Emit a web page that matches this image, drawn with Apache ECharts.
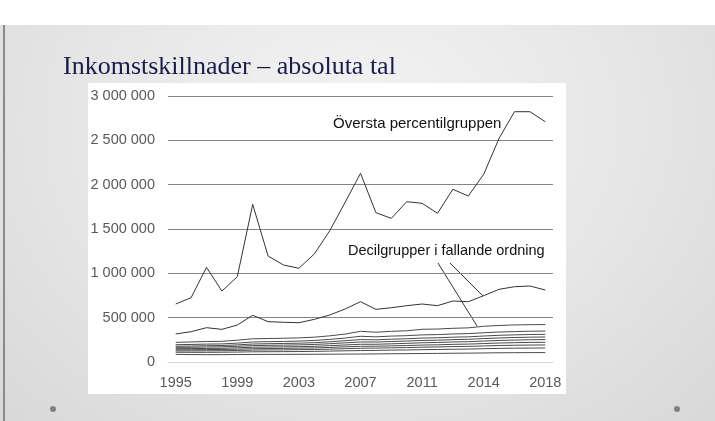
<!DOCTYPE html>
<html>
<head>
<meta charset="utf-8">
<script src="https://cdn.jsdelivr.net/npm/echarts@6/dist/echarts.min.js"></script>
<style>
  html, body { margin: 0; padding: 0; width: 715px; height: 421px; background: #fff; overflow: hidden; }
  #slide {
    position: absolute; left: 0; top: 25px; width: 715px; height: 396px;
    background: radial-gradient(ellipse at 50% 25%, #f3f3f3 0%, #e6e6e6 55%, #d8d8d8 100%);
  }
  #edge { position: absolute; left: 3px; top: 25px; width: 2px; height: 396px; background: #8a8a8a; }
  #box { position: absolute; left: 88px; top: 83px; width: 478px; height: 311px; background: #fff; }
  .dot { position: absolute; width: 6px; height: 6px; border-radius: 3px; background: #808080; top: 406px; }
  #map { position: absolute; left: 0; top: 0; width: 715px; height: 421px; }
</style>
</head>
<body>
<div id="slide"></div>
<div id="edge"></div>
<div id="box"></div>
<div class="dot" style="left:50px"></div>
<div class="dot" style="left:674px"></div>
<div id="map"></div>
<script>
// år (2013 finns två gånger i serien)
const years = ['1995', '1996', '1997', '1998', '1999', '2000', '2001', '2002', '2003', '2004',
  '2005', '2006', '2007', '2008', '2009', '2010', '2011', '2012', '2013', '2013',
  '2014', '2015', '2016', '2017', '2018'];

// översta percentilgruppen
const topPercentile = [654000, 725000, 1068000, 800000, 962000, 1778000, 1195000, 1094000, 1057000, 1218000,
  1480000, 1800000, 2128000, 1684000, 1620000, 1808000, 1790000, 1677000, 1948000, 1872000,
  2117000, 2523000, 2823000, 2823000, 2710000];

// decilgrupper, fallande
const decile10 = [316000, 342000, 387000, 368000, 417000, 527000, 455000, 448000, 443000, 481000,
  530000, 598000, 680000, 594000, 612000, 635000, 654000, 635000, 688000, 680000,
  748000, 820000, 849000, 857000, 812000];
const decile9 = [222000, 226000, 231000, 233000, 246000, 262000, 265000, 268000, 272000, 280000,
  295000, 315000, 346000, 336000, 346000, 352000, 369000, 372000, 380000, 385000,
  403000, 412000, 418000, 421000, 422000];
const decile8 = [195000, 198000, 202000, 204000, 213000, 226000, 229000, 232000, 236000, 243000,
  255000, 270000, 290000, 284000, 292000, 297000, 306000, 309000, 316000, 320000,
  330000, 338000, 343000, 347000, 349000];
const decile7 = [178000, 180000, 184000, 186000, 193000, 203000, 206000, 209000, 212000, 218000,
  228000, 240000, 253000, 250000, 257000, 262000, 270000, 273000, 280000, 284000,
  293000, 301000, 306000, 310000, 312000];
const decile6 = [165000, 166000, 169000, 171000, 177000, 185000, 188000, 190000, 193000, 198000,
  206000, 216000, 226000, 225000, 231000, 236000, 243000, 246000, 252000, 256000,
  264000, 271000, 276000, 280000, 282000];
const decile5 = [150000, 151000, 153000, 155000, 160000, 167000, 169000, 171000, 173000, 177000,
  184000, 192000, 200000, 200000, 205000, 210000, 217000, 220000, 226000, 229000,
  236000, 243000, 247000, 251000, 253000];
const decile4 = [138000, 138000, 140000, 141000, 145000, 150000, 152000, 154000, 156000, 159000,
  164000, 171000, 177000, 178000, 182000, 186000, 191000, 194000, 199000, 202000,
  208000, 214000, 218000, 221000, 222000];
const decile3 = [125000, 125000, 126000, 127000, 130000, 134000, 136000, 137000, 139000, 141000,
  145000, 150000, 155000, 157000, 160000, 163000, 167000, 170000, 174000, 176000,
  181000, 186000, 189000, 191000, 192000];
const decile2 = [110000, 109000, 109000, 110000, 112000, 115000, 116000, 117000, 118000, 120000,
  123000, 126000, 129000, 131000, 134000, 136000, 139000, 141000, 144000, 146000,
  150000, 154000, 156000, 157000, 158000];
const decile1 = [86000, 84000, 83000, 83000, 84000, 85000, 86000, 86000, 87000, 87000,
  88000, 89000, 90000, 91000, 93000, 94000, 96000, 97000, 99000, 100000,
  102000, 104000, 105000, 106000, 106000];

const allSeries = [topPercentile, decile10, decile9, decile8, decile7, decile6,
  decile5, decile4, decile3, decile2, decile1];

const chart = echarts.init(document.getElementById('map'));

const labelFont = 'Liberation Sans';

const option = {
  backgroundColor: 'transparent',
  animation: false,
  title: {
    text: 'Inkomstskillnader – absoluta tal',
    left: 58,
    top: 49,
    textStyle: {
      fontFamily: 'Liberation Serif',
      fontWeight: 'normal',
      fontSize: 26,
      color: '#1c1c4a',
    },
  },
  grid: { left: 168, right: 162, top: 96, bottom: 59 },
  xAxis: {
    type: 'category',
    data: years,
    boundaryGap: true,
    axisLine: { lineStyle: { color: '#d9d9d9', width: 1 } },
    axisTick: { show: false },
    axisLabel: {
      interval: 3,
      margin: 13,
      color: '#595959',
      fontFamily: labelFont,
      fontSize: 14.5,
    },
  },
  yAxis: {
    type: 'value',
    min: 0,
    max: 3000000,
    interval: 500000,
    axisLine: { show: false },
    axisTick: { show: false },
    splitLine: { lineStyle: { color: '#858585', width: 1 } },
    axisLabel: {
      margin: 13,
      color: '#595959',
      fontFamily: labelFont,
      fontSize: 14.5,
      formatter: function (v) {
        return String(v).replace(/\B(?=(\d{3})+(?!\d))/g, ' ');
      },
    },
  },
  series: allSeries.map(function (d, i) {
    return {
      type: 'line',
      data: d,
      symbol: 'none',
      z: 3,
      lineStyle: { color: i < 2 ? '#333' : '#4a4a4a', width: 1 },
    };
  }),
  graphic: [
    {
      type: 'text', left: 333, top: 116,
      style: { text: 'Översta percentilgruppen', fill: '#111', font: '15px "Liberation Sans"' },
    },
    {
      type: 'text', left: 348, top: 243,
      style: { text: 'Decilgrupper i fallande ordning', fill: '#111', font: '14.5px "Liberation Sans"' },
    },
    {
      type: 'line',
      shape: { x1: 450, y1: 263, x2: 483, y2: 296 },
      style: { stroke: '#333', lineWidth: 1 },
    },
    {
      type: 'line',
      shape: { x1: 438, y1: 263, x2: 477, y2: 326 },
      style: { stroke: '#333', lineWidth: 1 },
    },
  ],
};

chart.setOption(option);
</script>
</body>
</html>
